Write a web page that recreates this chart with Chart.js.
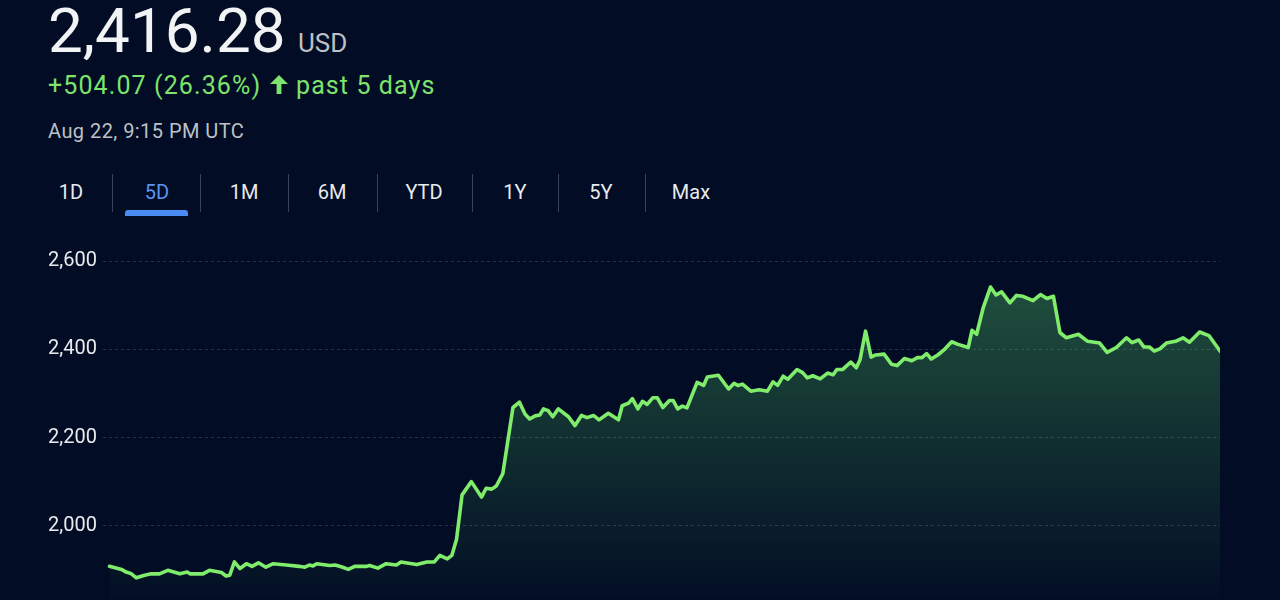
<!DOCTYPE html>
<html>
<head>
<meta charset="utf-8">
<title>5D price</title>
<script src="https://cdn.jsdelivr.net/npm/chart.js@4.4.1/dist/chart.umd.min.js"></script>
<style>
  html, body { margin: 0; padding: 0; background: #020c24; overflow: hidden; }
  #page { position: relative; width: 1280px; height: 600px; overflow: hidden; background: #020c24; font-family: Roboto, "Noto Sans", sans-serif; }
  .abs { position: absolute; white-space: nowrap; line-height: 1; }
  #price { left: 48px; top: 0px; font-size: 62px; color: #f1f3f4; }
  #cur { left: 298px; top: 30px; font-size: 26px; color: #bdc1c6; }
  #change { left: 48px; top: 73px; font-size: 25px; letter-spacing: 1.1px; color: #7ee36c; }
  #arrow { left: 269px; top: 74px; width: 20px; height: 20px; }
  #period { left: 296px; top: 73px; font-size: 25px; letter-spacing: 1.1px; color: #7ee36c; }
  #stamp { left: 48px; top: 121px; font-size: 20px; letter-spacing: 0.45px; color: #bdc1c6; }
  .tab { top: 182px; font-size: 20px; color: #e8eaed; transform: translateX(-50%); }
  .tab.on { color: #5a95f5; }
  .sep { position: absolute; top: 174px; width: 1px; height: 38px; background: #3a4255; }
  #underline { position: absolute; left: 125px; top: 210px; width: 63px; height: 6px; background: #4a8af4; border-radius: 3px 3px 0 0; }
  #chartBox { position: absolute; left: 0; top: 243px; width: 1280px; height: 389px; }
</style>
</head>
<body>
<div id="page">
  <div class="abs" id="price">2,416.28</div>
  <div class="abs" id="cur">USD</div>
  <div class="abs" id="change">+504.07 (26.36%)</div>
  <svg class="abs" id="arrow" viewBox="0 0 20 20"><polygon fill="#7ee36c" points="10,1 1,10 7.6,10 7.6,20 12.4,20 12.4,10 19,10"/></svg>
  <div class="abs" id="period">past 5 days</div>
  <div class="abs" id="stamp">Aug 22, 9:15 PM UTC</div>

  <div class="abs tab" style="left:71px">1D</div>
  <div class="abs tab on" style="left:157px">5D</div>
  <div class="abs tab" style="left:244px">1M</div>
  <div class="abs tab" style="left:332px">6M</div>
  <div class="abs tab" style="left:424px">YTD</div>
  <div class="abs tab" style="left:515px">1Y</div>
  <div class="abs tab" style="left:601px">5Y</div>
  <div class="abs tab" style="left:691px">Max</div>
  <div class="sep" style="left:112px"></div>
  <div class="sep" style="left:200px"></div>
  <div class="sep" style="left:288px"></div>
  <div class="sep" style="left:377px"></div>
  <div class="sep" style="left:472px"></div>
  <div class="sep" style="left:558px"></div>
  <div class="sep" style="left:645px"></div>
  <div id="underline"></div>

  <div id="chartBox"><canvas id="priceChart" width="1280" height="389"></canvas></div>
</div>
<script>
// hours since the start of the 5-day window
const hours = [
  0.0, 1.3, 1.8, 2.3, 2.9, 3.8, 4.5, 5.4, 6.3, 7.6, 8.4, 8.7, 10.1, 10.8, 12.1, 12.6, 13.0, 13.5, 14.1, 14.8,
  15.4, 16.1, 16.9, 17.7, 19.1, 20.5, 21.1, 21.6, 22.0, 22.4,
  23.8, 24.4, 25.2, 25.8, 26.5, 27.8, 28.1, 29.0, 29.9, 31.0, 31.5, 33.2, 34.3, 35.1, 35.7, 36.5, 37.0, 37.5, 38.1, 39.1,
  40.2, 40.7, 41.3, 41.8, 42.5, 43.6, 44.3, 44.9, 45.4, 46.0,
  46.5, 46.9, 47.4, 47.9, 48.5, 49.6, 50.3, 51.0, 51.6, 52.3, 52.9, 53.9, 55.0, 55.4, 56.1, 56.5, 57.1, 57.6, 58.1, 58.7,
  59.2, 59.8, 60.5, 60.9, 61.4, 61.9, 62.4, 63.5, 64.2, 64.6, 65.8, 66.9, 67.5, 67.9, 68.4, 69.3, 70.2, 71.1, 71.7, 72.2,
  72.8, 73.3, 74.3, 74.9, 75.4, 76.0, 76.8, 77.6, 78.2, 78.6, 79.2, 80.1, 80.7, 81.1, 81.7, 82.3, 82.8, 83.7, 84.5, 85.1,
  85.9, 86.7, 87.3, 87.8, 88.3, 88.8, 89.5, 90.2, 91.0, 91.7, 92.8, 93.2, 93.7, 94.4, 95.2, 95.8, 96.4,
  97.3, 98.0, 98.7, 99.8, 100.6, 101.3, 102.0, 102.7, 103.4, 104.7, 105.7, 107.0, 107.8, 108.8, 109.9, 110.5, 111.2, 111.8, 112.4, 112.9,
  113.5, 114.2, 115.2, 116.0, 116.7, 117.8, 118.8, 120.0
];

// price in USD
const prices = [
  1908, 1901, 1895, 1892, 1882, 1888, 1891, 1891, 1899, 1891, 1895, 1891, 1891, 1899, 1894, 1886, 1888, 1918, 1903, 1914,
  1908, 1916, 1906, 1914, 1911, 1908, 1906, 1911, 1909, 1914,
  1910, 1911, 1906, 1901, 1908, 1908, 1910, 1904, 1914, 1911, 1918, 1912, 1918, 1918, 1933, 1925, 1933, 1969, 2070, 2100,
  2065, 2085, 2083, 2090, 2118, 2268, 2280, 2253, 2242, 2249,
  2251, 2265, 2261, 2247, 2265, 2247, 2227, 2250, 2245, 2250, 2240, 2255, 2240, 2272, 2278, 2288, 2265, 2282, 2275, 2290,
  2290, 2268, 2284, 2284, 2265, 2271, 2267, 2325, 2318, 2337, 2341, 2310, 2323, 2318, 2321, 2305, 2308, 2305, 2326, 2318,
  2339, 2332, 2354, 2347, 2335, 2340, 2333, 2346, 2342, 2354, 2354, 2371, 2358, 2376, 2441, 2382, 2387, 2389, 2366, 2363,
  2379, 2374, 2381, 2381, 2390, 2378, 2387, 2399, 2417, 2411, 2404, 2443, 2434, 2493, 2541, 2523, 2530,
  2505, 2522, 2520, 2510, 2524, 2515, 2520, 2438, 2426, 2434, 2418, 2414, 2393, 2404, 2426, 2415, 2421, 2405, 2405, 2396,
  2401, 2414, 2418, 2426, 2416, 2439, 2431, 2396
];

const yTicks = [1800, 2000, 2200, 2400, 2600];

const points = hours.map((h, i) => ({ x: h, y: prices[i] }));

// area fill fades out toward the bottom
function areaFill(context) {
    const chart = context.chart;
    const area = chart.chartArea;
    if (!area) return null;
    const g = chart.ctx.createLinearGradient(0, area.top, 0, area.bottom);
    g.addColorStop(0, 'rgba(90, 210, 110, 0.36)');
    g.addColorStop(1, 'rgba(90, 210, 110, 0.0)');
    return g;
}

new Chart(document.getElementById('priceChart'), {
    type: 'line',
    data: {
        datasets: [{
            data: points,
            borderColor: '#80ec6c',
            borderWidth: 3.6,
            borderJoinStyle: 'round',
            borderCapStyle: 'round',
            pointRadius: 0,
            tension: 0,
            fill: 'start',
            backgroundColor: areaFill
        }]
    },
    options: {
        responsive: false,
        animation: false,
        events: [],
        layout: {
            padding: { left: 0, right: 60, top: 0, bottom: 0 }
        },
        plugins: {
            legend: { display: false },
            tooltip: { enabled: false }
        },
        scales: {
            x: {
                type: 'linear',
                display: false,
                min: -0.7,
                max: 120
            },
            y: {
                min: 1800,
                max: 2600,
                afterBuildTicks: (scale) => {
                    scale.ticks = yTicks.map(v => ({ value: v }));
                },
                afterFit: (scale) => {
                    scale.width = 103;
                },
                grid: {
                    color: 'rgba(255, 255, 255, 0.15)',
                    lineWidth: 1,
                    drawTicks: false,
                    borderDash: [3, 3]
                },
                border: { display: false, dash: [3, 3] },
                ticks: {
                    padding: 6,
                    color: '#e8eaed',
                    font: { family: 'Roboto', size: 20 },
                    callback: (v) => v.toLocaleString('en-US')
                }
            }
        }
    }
});
</script>
</body>
</html>
